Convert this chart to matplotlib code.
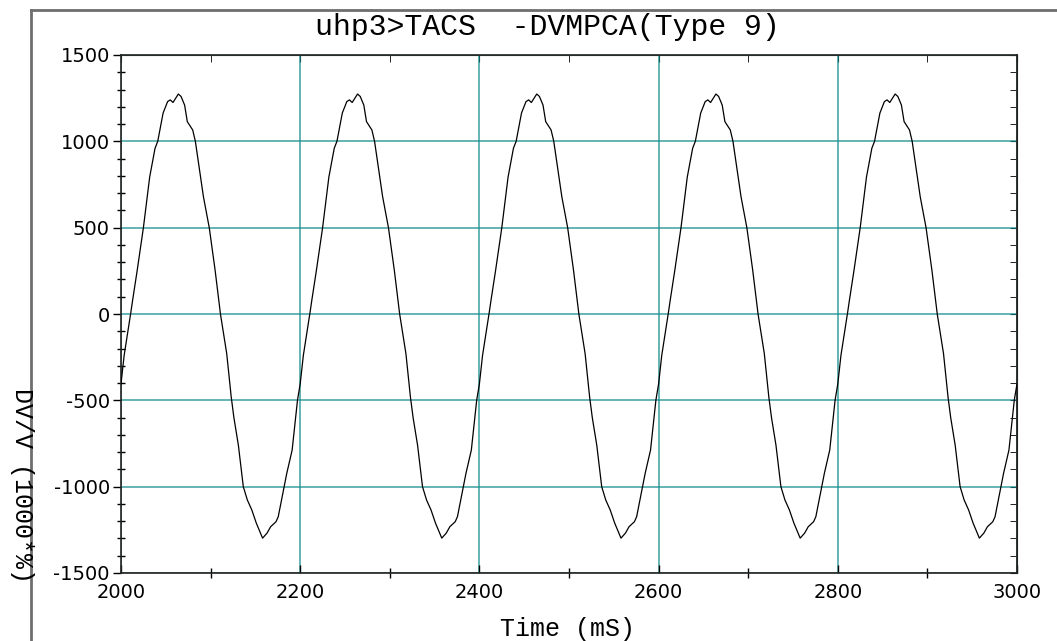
import numpy as np
import matplotlib
matplotlib.use('Agg')
import matplotlib.pyplot as plt
from matplotlib.lines import Line2D
from matplotlib.ticker import MultipleLocator

# one cycle of the waveform (ms from cycle start, value)
cycle_t = [0, 3.5, 8, 11, 13, 18, 25, 32, 38, 41, 47, 52, 55, 58, 61, 64, 67,
           71, 74, 80, 83, 92, 98.5, 105, 111, 118, 123, 126, 131, 136.5, 141,
           146, 151, 158, 163, 167, 173, 175.5, 182, 185, 191, 193, 197]
cycle_v = [-405, -240, -90, 10, 81, 250, 500, 793, 960, 1000, 1164, 1230, 1240,
           1225, 1250, 1274, 1260, 1210, 1114, 1066, 1000, 679, 500, 255, 0,
           -230, -480, -600, -760, -1000, -1077, -1135, -1211, -1298, -1269,
           -1232, -1203, -1174, -1000, -923, -788, -691, -498]
cycle_starts = [2000, 2200, 2400, 2600, 2800]
end_point = (3000, -405)

title = 'uhp3>TACS  -DVMPCA(Type 9)'
xlabel = 'Time (mS)'
ylabel = 'DV/V (1000*%)'

plt.rcParams['axes.unicode_minus'] = False
mono = 'Liberation Mono'
grid_col = '#1a8f8f'

t = np.concatenate([np.array(cycle_t) + s for s in cycle_starts] + [[end_point[0]]])
v = np.concatenate([np.array(cycle_v) for s in cycle_starts] + [[end_point[1]]])

W, H = 1057, 641
fig = plt.figure(figsize=(W / 100, H / 100), dpi=100)
ax = fig.add_axes([121 / W, 1 - 573 / H, (1017 - 121) / W, (573 - 55) / H])

ax.plot(t, v, color='black', lw=0.9, zorder=3)
ax.set_xlim(2000, 3000)
ax.set_ylim(-1500, 1500)

ax.xaxis.set_major_locator(MultipleLocator(200))
ax.xaxis.set_minor_locator(MultipleLocator(100))
ax.yaxis.set_major_locator(MultipleLocator(500))
ax.yaxis.set_minor_locator(MultipleLocator(100))
ax.grid(True, which='major', color=grid_col, lw=1.1, alpha=0.85)

ax.tick_params(axis='x', which='major', direction='in', length=6, width=1,
               labelsize=14, pad=7, top=False)
ax.tick_params(axis='x', which='minor', direction='inout', length=7, width=1, top=False)
ax.tick_params(axis='y', which='major', direction='out', length=6, width=1,
               labelsize=14, pad=2, right=False)
ax.tick_params(axis='y', which='minor', direction='inout', length=6, width=1, right=False)

for sp in ax.spines.values():
    sp.set_color('#222222')
    sp.set_linewidth(1.2)

# right and top ticks point inward only
sec_y = ax.secondary_yaxis('right')
sec_y.yaxis.set_major_locator(MultipleLocator(500))
sec_y.yaxis.set_minor_locator(MultipleLocator(100))
sec_y.tick_params(which='both', direction='in', length=5, labelright=False)
sec_y.spines['right'].set_color('#222222')
sec_x = ax.secondary_xaxis('top')
sec_x.xaxis.set_major_locator(MultipleLocator(200))
sec_x.xaxis.set_minor_locator(MultipleLocator(100))
sec_x.tick_params(which='both', direction='in', length=5, labeltop=False)
sec_x.spines['top'].set_color('#222222')

fig.text(547 / W, 1 - 27 / H, title, family=mono, fontsize=21.5,
         ha='center', va='center')
fig.text(568 / W, 1 - 629 / H, xlabel, family=mono, fontsize=18,
         ha='center', va='center')
fig.text(22 / W, 1 - 485 / H, ylabel, family=mono, fontsize=18,
         ha='center', va='center', rotation=270)

# outer frame
fig.add_artist(Line2D([31 / W, 31 / W], [0, 1 - 10 / H], color='#6e6e6e', lw=2,
                      transform=fig.transFigure))
fig.add_artist(Line2D([31 / W, 1], [1 - 10 / H, 1 - 10 / H], color='#6e6e6e', lw=2,
                      transform=fig.transFigure))

fig.savefig('out.png', dpi=100)
